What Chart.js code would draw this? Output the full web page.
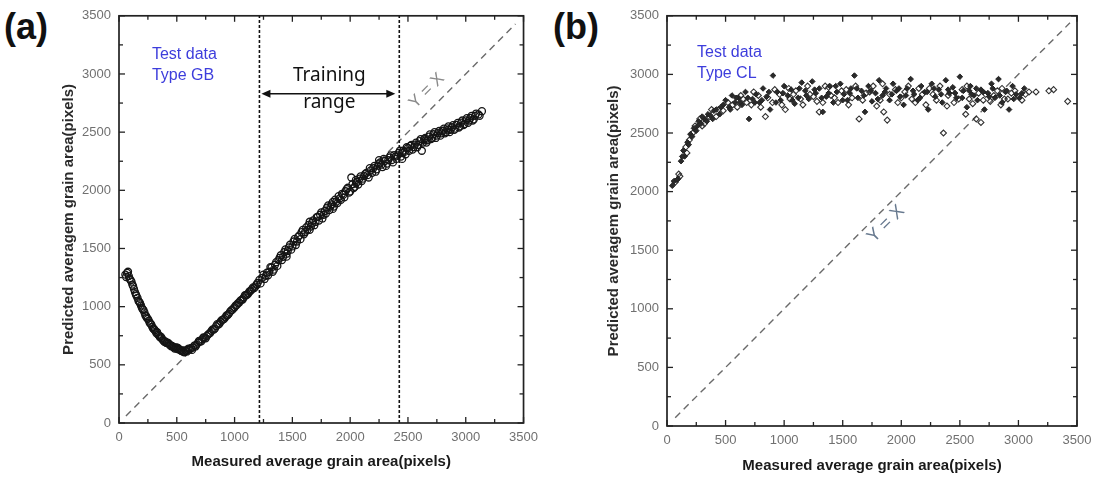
<!DOCTYPE html>
<html lang="en">
<head>
<meta charset="UTF-8">
<title>Measured vs predicted grain area</title>
<script src="https://cdn.jsdelivr.net/npm/chart.js"></script>
<style>
  body { margin: 0; background: #fff; width: 1107px; height: 478px; position: relative; overflow: hidden; }
  canvas { position: absolute; top: 0; }
  #chartA { left: 0; }
  #chartB { left: 548px; }
  .panel { position: absolute; top: 6px; font: bold 36px "Liberation Sans", Arial, sans-serif; color: #111; }
</style>
</head>
<body>
<div class="panel" style="left:4px">(a)</div>
<div class="panel" style="left:553px">(b)</div>
<canvas id="chartA" width="545" height="478"></canvas>
<canvas id="chartB" width="559" height="478"></canvas>
<script>
// axis setup shared by both panels
const axisMin = 0;
const axisMax = 3500;
const axisStep = 500;
const xTitle = 'Measured average grain area(pixels)';
const yTitle = 'Predicted averagem grain area(pixels)';

// (a) test data type GB: [measured, predicted]
const gbPoints = [
  [55,1275],[70,1290],[85,1262],[100,1228],[115,1190],[130,1150],[145,1108],[160,1075],[175,1040],[190,1010],
  [205,978],[220,950],[235,918],[250,895],[265,862],[280,845],[295,812],[310,798],[325,770],[340,758],
  [355,736],[370,728],[385,708],[400,702],[415,686],[430,684],[445,668],[460,662],[475,650],[490,648],
  [505,636],[520,634],[535,622],[550,624],[565,608],[580,620],[595,628],[150,1095],[240,905],[330,780],
  [420,690],[510,645],[610,632],[625,645],[640,648],[655,668],[670,672],[685,692],[700,700],[720,718],
  [740,732],[760,748],[780,768],[800,792],[820,804],[840,832],[860,846],[880,872],[900,888],[920,908],
  [940,928],[960,955],[980,972],[1000,995],[1020,1015],[1040,1035],[1060,1058],[1080,1080],[1100,1098],[1120,1115],
  [1140,1138],[1160,1165],[1180,1172],[1200,1205],[1215,1230],[1240,1248],[1260,1238],[1280,1292],[1300,1300],[1320,1335],
  [1340,1318],[1360,1382],[1380,1400],[1400,1442],[1420,1428],[1440,1492],[1460,1478],[1480,1532],[1500,1518],[1520,1582],
  [1540,1560],[1560,1612],[1580,1640],[1600,1622],[1620,1682],[1640,1702],[1660,1688],[1680,1742],[1700,1728],[1720,1772],
  [1740,1790],[1760,1758],[1780,1822],[1800,1852],[1820,1830],[1840,1880],[1860,1860],[1880,1902],[1900,1950],[1920,1918],
  [1940,1962],[1960,1992],[1980,2022],[2000,1990],[2010,2110],[2020,2052],[2040,2030],[2060,2072],[2080,2100],[2100,2080],
  [2120,2122],[2140,2150],[2160,2110],[2180,2172],[2200,2190],[2220,2160],[2240,2212],[2260,2240],[2280,2200],[2300,2252],
  [2320,2230],[2340,2282],[2360,2260],[2380,2302],[2400,2270],[2420,2322],[2440,2290],[2460,2342],[2480,2310],[2500,2362],
  [2520,2382],[2540,2350],[2560,2392],[2580,2370],[2600,2422],[2620,2340],[2640,2440],[2660,2410],[2680,2462],[2700,2440],
  [2720,2482],[2740,2450],[2760,2492],[2780,2470],[2800,2512],[2820,2490],[2840,2532],[2860,2500],[2880,2542],[2900,2520],
  [2920,2562],[2940,2540],[2960,2582],[2980,2560],[3000,2602],[3020,2580],[3040,2622],[3060,2600],[3080,2640],[3110,2652],
  [3140,2680],[1450,1455],[1650,1660],[1850,1900],[2050,2060],[2250,2230],[2450,2320],[2650,2430],[2850,2520],
  [62,1255],[78,1300],[92,1240],[108,1215],[122,1175],[138,1125],[168,1050],[182,1030],[198,990],[212,970],
  [228,925],[258,880],[272,855],[288,825],[302,808],[318,785],[348,748],[362,742],[378,715],[392,698],
  [408,690],[438,672],[452,660],[468,652],[482,640],[498,650],[528,628],[542,618],[558,612],[572,625],
  [588,615],[602,640],[632,628],[662,658],[692,705],[712,702],[730,735],[750,728],[770,760],[790,775],
  [810,805],[830,812],[850,850],[870,855],[890,885],[910,895],[930,925],[950,938],[970,968],[990,985],
  [1010,1010],[1030,1030],[1050,1052],[1070,1062],[1090,1098],[1110,1105],[1130,1132],[1150,1150],[1170,1160],[1190,1190],
  [1225,1200],[1250,1275],[1270,1265],[1290,1270],[1310,1340],[1330,1300],[1350,1360],[1370,1350],[1390,1420],[1410,1400],
  [1430,1470],[1450,1430],[1470,1510],[1490,1490],[1510,1560],[1530,1530],[1550,1600],[1570,1580],[1590,1660],[1610,1640],
  [1630,1660],[1650,1730],[1670,1720],[1690,1700],[1710,1770],[1730,1740],[1750,1810],[1770,1790],[1790,1800],[1810,1870],
  [1830,1860],[1850,1840],[1870,1920],[1890,1890],[1910,1930],[1930,1970],[1950,1940],[1970,2010],[1990,1980],[2030,2020],
  [2050,2090],[2070,2050],[2090,2120],[2110,2100],[2130,2140],[2150,2130],[2170,2190],[2190,2150],[2210,2210],[2230,2180],
  [2250,2260],[2270,2220],[2290,2270],[2310,2210],[2330,2260],[2350,2300],[2370,2240],[2390,2290],[2410,2300],[2430,2340],
  [2450,2270],[2470,2330],[2490,2370],[2510,2340],[2530,2390],[2550,2370],[2570,2410],[2590,2390],[2610,2440],[2630,2410],
  [2650,2450],[2670,2430],[2690,2480],[2710,2450],[2730,2500],[2750,2470],[2770,2510],[2790,2490],[2810,2530],[2830,2500],
  [2850,2550],[2870,2520],[2890,2560],[2910,2530],[2930,2580],[2950,2550],[2970,2600],[2990,2570],[3010,2620],[3030,2600],
  [3050,2640],[3070,2610],[3090,2660],[3120,2640]
];

// (b) test data type CL, dark and open markers: [measured, predicted]
const clDark = [
  [45,2050],[60,2090],[95,2110],[120,2260],[140,2350],[150,2300],[175,2420],[200,2490],[215,2470],[230,2540],
  [250,2520],[270,2600],[290,2580],[310,2630],[330,2610],[350,2660],[370,2650],[400,2690],[420,2700],[450,2660],
  [480,2740],[500,2780],[530,2720],[555,2820],[580,2760],[610,2800],[640,2740],[670,2850],[700,2620],[730,2790],
  [760,2830],[790,2760],[820,2880],[850,2810],[880,2700],[905,2990],[940,2850],[970,2780],[1000,2900],[1030,2820],
  [1060,2870],[1090,2750],[1120,2800],[1150,2930],[1180,2860],[1210,2790],[1240,2940],[1270,2840],[1300,2880],[1330,2680],
  [1360,2810],[1390,2900],[1420,2760],[1450,2850],[1480,2920],[1510,2830],[1540,2780],[1570,2880],[1600,2990],[1630,2800],
  [1660,2860],[1690,2680],[1720,2900],[1750,2770],[1780,2840],[1810,2950],[1840,2820],[1870,2880],[1900,2780],[1930,2920],
  [1960,2860],[1990,2810],[2020,2740],[2050,2880],[2080,2960],[2110,2830],[2140,2780],[2170,2900],[2200,2850],[2230,2700],
  [2260,2920],[2290,2810],[2320,2870],[2350,2760],[2380,2950],[2410,2840],[2440,2890],[2470,2800],[2500,2980],[2530,2860],
  [2560,2720],[2590,2900],[2620,2820],[2650,2780],[2680,2870],[2710,2700],[2740,2840],[2770,2920],[2800,2800],[2830,2960],
  [2860,2760],[2890,2850],[2920,2700],[2950,2900],[2980,2830],[3010,2800],[3050,2880],
  [85,2100],[130,2300],[185,2400],[260,2560],[300,2640],[340,2600],[390,2620],[460,2720],[540,2700],[590,2800],
  [620,2760],[690,2800],[750,2760],[810,2780],[870,2850],[930,2760],[990,2840],[1070,2780],[1130,2880],[1190,2820],
  [1260,2870],[1320,2800],[1380,2840],[1440,2900],[1500,2780],[1560,2840],[1620,2880],[1680,2820],[1740,2860],[1800,2790],
  [1860,2850],[1920,2830],[1980,2880],[2040,2820],[2100,2860],[2160,2800],[2220,2850],[2280,2880],[2340,2830],[2400,2870],
  [2460,2840],[2520,2800],[2580,2860],[2600,2830],[2640,2880],[2700,2850],[2750,2810],[2780,2880],[2840,2820],[2900,2860],
  [2960,2790],[3030,2840]
];
const clOpen = [
  [70,2080],[110,2130],[160,2380],[190,2440],[240,2560],[280,2620],[320,2580],[360,2640],[440,2700],[520,2760],
  [600,2720],[650,2790],[720,2740],[780,2820],[840,2640],[900,2760],[960,2830],[1010,2700],[1050,2790],[1100,2860],
  [1160,2740],[1220,2830],[1280,2770],[1300,2680],[1350,2900],[1400,2820],[1460,2760],[1530,2870],[1580,2800],[1640,2620],
  [1700,2840],[1760,2900],[1820,2780],[1850,2680],[1880,2610],[1950,2870],[2000,2800],[2060,2900],[2120,2760],[2180,2830],
  [2240,2880],[2300,2780],[2360,2500],[2400,2820],[2450,2760],[2520,2870],[2550,2660],[2580,2790],[2640,2620],[2680,2590],
  [2720,2830],[2760,2770],[2820,2860],[2850,2740],[2880,2790],[2940,2840],[3000,2810],[3060,2830],[3150,2850],[3260,2860],
  [3300,2870],[3420,2770],
  [100,2150],[170,2330],[220,2500],[300,2560],[380,2700],[420,2640],[480,2690],[560,2740],[630,2820],[680,2760],
  [740,2850],[800,2720],[860,2800],[920,2870],[980,2740],[1040,2880],[1080,2830],[1140,2790],[1200,2900],[1250,2810],
  [1330,2760],[1380,2890],[1430,2800],[1490,2860],[1550,2740],[1610,2900],[1670,2780],[1730,2850],[1790,2730],[1840,2920],
  [1900,2830],[1970,2760],[2030,2850],[2090,2790],[2150,2880],[2210,2740],[2270,2830],[2330,2900],[2390,2730],[2430,2860],
  [2490,2790],[2560,2900],[2610,2750],[2660,2840],[2700,2780],[2790,2820],[2860,2880],[2910,2790],[2970,2860],[3030,2780],
  [3090,2850]
];

// reference line Y = X and training window for (a)
const identityA = [[60,60],[3430,3430]];
const identityB = [[70,70],[3440,3440]];
const trainingRange = [1215, 2425];
const arrowLevel = 2830;

function toXY(pairs) {
    return pairs.map(p => ({ x: p[0], y: p[1] }));
}

const font = 'Liberation Sans';

function makeScales(yPad, xPad, yWidth, xHeight) {
    const tickFont = { family: font, size: 13 };
    return {
        x: {
            type: 'linear', min: axisMin, max: axisMax,
            ticks: { stepSize: axisStep, padding: 7, color: '#707070', maxRotation: 0, font: tickFont, callback: v => String(v) },
            grid: { display: false, drawTicks: false },
            border: { display: false },
            title: { display: true, text: xTitle, color: '#1a1a1a', font: { family: font, size: 15, weight: 'bold' }, padding: { top: 0, bottom: xPad } },
            afterFit: s => { s.height = xHeight; }
        },
        y: {
            type: 'linear', min: axisMin, max: axisMax,
            ticks: { stepSize: axisStep, padding: 8, color: '#707070', font: tickFont, callback: v => String(v) },
            grid: { display: false, drawTicks: false },
            border: { display: false },
            title: { display: true, text: yTitle, color: '#2a2a2a', font: { family: font, size: 15, weight: 'bold' }, padding: { top: yPad, bottom: 0 } },
            afterFit: s => { s.width = yWidth; }
        }
    };
}

// box around the plot with inward major/minor ticks on all sides
const frameTicks = {
    id: 'frameTicks',
    afterDraw(chart) {
        const { ctx, chartArea: a, scales: { x, y } } = chart;
        ctx.save();
        ctx.strokeStyle = '#222';
        ctx.lineWidth = 1.7;
        ctx.strokeRect(a.left, a.top, a.right - a.left, a.bottom - a.top);
        ctx.lineWidth = 1.3;
        const seg = (x1, y1, x2, y2) => { ctx.beginPath(); ctx.moveTo(x1, y1); ctx.lineTo(x2, y2); ctx.stroke(); };
        const vals = [];
        x.ticks.forEach((t, i) => {
            vals.push([t.value, 6]);
            if (i < x.ticks.length - 1) vals.push([(t.value + x.ticks[i + 1].value) / 2, 4]);
        });
        vals.forEach(([v, len]) => {
            const px = x.getPixelForValue(v);
            const py = y.getPixelForValue(v);
            seg(px, a.bottom, px, a.bottom - len);
            seg(px, a.top, px, a.top + len);
            seg(a.left, py, a.left + len, py);
            seg(a.right, py, a.right - len, py);
        });
        ctx.restore();
    }
};

function label(ctx, text, px, py, opts) {
    ctx.save();
    ctx.translate(px, py);
    if (opts.rotate) ctx.rotate(opts.rotate);
    ctx.font = opts.font;
    ctx.fillStyle = opts.color;
    ctx.textAlign = opts.align || 'center';
    ctx.textBaseline = 'middle';
    ctx.fillText(text, 0, 0);
    ctx.restore();
}

const notesA = {
    id: 'notesA',
    afterDraw(chart) {
        const { ctx, scales: { x, y } } = chart;
        const blue = { font: '16px "Liberation Sans"', color: '#3d3ddc', align: 'left' };
        label(ctx, 'Test data', x.getPixelForValue(285), y.getPixelForValue(3165), blue);
        label(ctx, 'Type GB', x.getPixelForValue(285), y.getPixelForValue(2985), blue);

        const mid = x.getPixelForValue((trainingRange[0] + trainingRange[1]) / 2);
        const big = { font: '19px "Noto Sans"', color: '#111' };
        label(ctx, 'Training', mid, y.getPixelForValue(2985), big);
        label(ctx, 'range', mid, y.getPixelForValue(2753), big);

        // double-headed arrow across the training range
        const x1 = x.getPixelForValue(trainingRange[0]) + 2;
        const x2 = x.getPixelForValue(trainingRange[1]) - 4;
        const ay = y.getPixelForValue(arrowLevel);
        ctx.save();
        ctx.strokeStyle = '#111';
        ctx.fillStyle = '#111';
        ctx.lineWidth = 1.5;
        ctx.beginPath(); ctx.moveTo(x1 + 6, ay); ctx.lineTo(x2 - 6, ay); ctx.stroke();
        ctx.beginPath(); ctx.moveTo(x1, ay); ctx.lineTo(x1 + 9, ay - 4); ctx.lineTo(x1 + 9, ay + 4); ctx.closePath(); ctx.fill();
        ctx.beginPath(); ctx.moveTo(x2, ay); ctx.lineTo(x2 - 9, ay - 4); ctx.lineTo(x2 - 9, ay + 4); ctx.closePath(); ctx.fill();
        ctx.restore();

        label(ctx, 'Y = X', x.getPixelForValue(2664), y.getPixelForValue(2856),
            { font: '17px "Liberation Sans"', color: '#8a8a8a', rotate: -Math.PI / 4 });
    }
};

const notesB = {
    id: 'notesB',
    afterDraw(chart) {
        const { ctx, scales: { x, y } } = chart;
        const blue = { font: '16px "Liberation Sans"', color: '#3d3ddc', align: 'left' };
        label(ctx, 'Test data', x.getPixelForValue(256), y.getPixelForValue(3187), blue);
        label(ctx, 'Type CL', x.getPixelForValue(256), y.getPixelForValue(3009), blue);
        label(ctx, 'Y = X', x.getPixelForValue(1870), y.getPixelForValue(1724),
            { font: '18px "Liberation Sans"', color: '#66788e', rotate: -Math.PI / 4 });
    }
};

const dashLine = (data) => ({
    type: 'line', data: toXY(data), borderColor: '#6a6a6a', borderWidth: 1.4,
    borderDash: [7, 5], pointRadius: 0, fill: false, order: 3
});
const vLine = (v) => ({
    type: 'line', data: [{ x: v, y: axisMin }, { x: v, y: axisMax }], borderColor: '#111', borderWidth: 1.6,
    borderDash: [3, 2], pointRadius: 0, fill: false, order: 2
});

new Chart(document.getElementById('chartA').getContext('2d'), {
    type: 'scatter',
    data: {
        datasets: [
            { data: toXY(gbPoints), pointStyle: 'circle', pointRadius: 3.5, borderColor: '#151515', backgroundColor: 'rgba(0,0,0,0)', borderWidth: 1.3, order: 1 },
            dashLine(identityA),
            vLine(trainingRange[0]),
            vLine(trainingRange[1])
        ]
    },
    options: {
        responsive: false, animation: false,
        layout: { padding: { left: 0, right: 20, top: 15, bottom: 0 } },
        plugins: { legend: { display: false }, tooltip: { enabled: false } },
        scales: makeScales(60, 7, 119, 55)
    },
    plugins: [frameTicks, notesA]
});

new Chart(document.getElementById('chartB').getContext('2d'), {
    type: 'scatter',
    data: {
        datasets: [
            { data: toXY(clDark), pointStyle: 'rectRot', pointRadius: 2.8, borderColor: '#222', backgroundColor: '#2a2a2a', borderWidth: 1, order: 1 },
            { data: toXY(clOpen), pointStyle: 'rectRot', pointRadius: 3, borderColor: '#333', backgroundColor: 'rgba(255,255,255,0)', borderWidth: 1.1, order: 1 },
            dashLine(identityB)
        ]
    },
    options: {
        responsive: false, animation: false,
        layout: { padding: { left: 0, right: 30, top: 12, bottom: 0 } },
        plugins: { legend: { display: false }, tooltip: { enabled: false } },
        scales: makeScales(57, 3, 119, 52)
    },
    plugins: [frameTicks, notesB]
});
</script>
</body>
</html>
